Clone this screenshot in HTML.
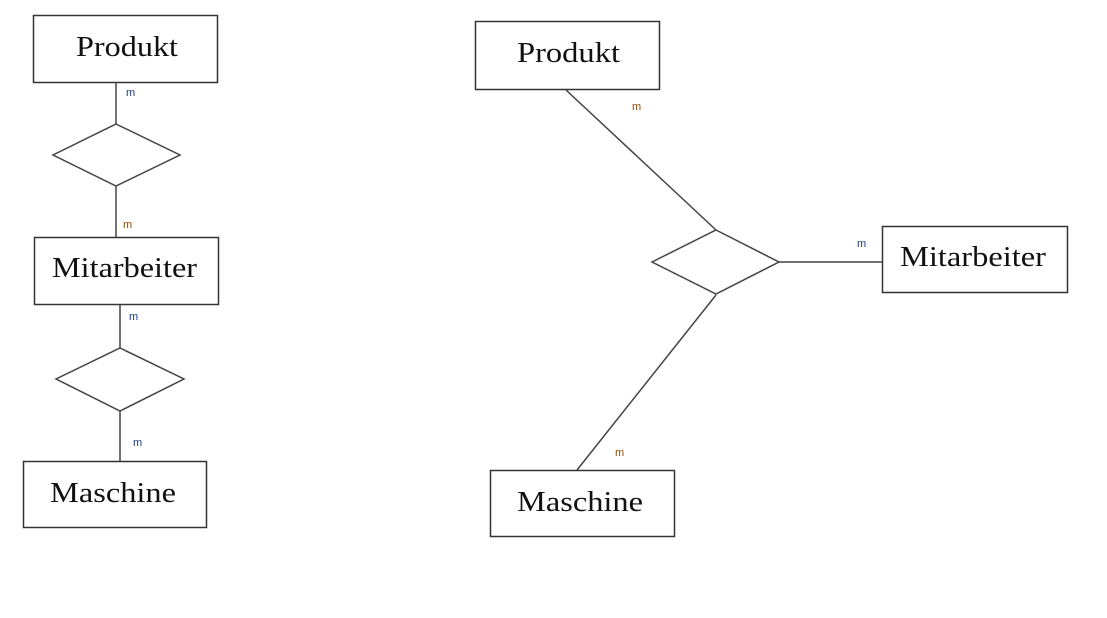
<!DOCTYPE html>
<html><head><style>
body{margin:0;background:#fff;width:1107px;height:618px;overflow:hidden}
</style></head><body>
<svg width="1107" height="618" xmlns="http://www.w3.org/2000/svg" style="position:absolute;left:0;top:0">
<g fill="#fff" stroke="#333" stroke-width="1.5">
<rect x="33.5" y="15.5" width="184" height="67"/>
<rect x="34.5" y="237.5" width="184" height="67"/>
<rect x="23.5" y="461.5" width="183" height="66"/>
<rect x="475.5" y="21.5" width="184" height="68"/>
<rect x="882.5" y="226.5" width="185" height="66"/>
<rect x="490.5" y="470.5" width="184" height="66"/>
</g>
<g stroke="#444" stroke-width="1.5" fill="none">
<line x1="116" y1="82" x2="116" y2="124"/>
<line x1="116" y1="186" x2="116" y2="237"/>
<line x1="120" y1="304" x2="120" y2="348"/>
<line x1="120" y1="411" x2="120" y2="461"/>
<line x1="566" y1="90" x2="716" y2="230"/>
<line x1="779" y1="262" x2="882" y2="262"/>
<line x1="716" y1="295" x2="577" y2="470"/>
<polygon points="116,124 180,155 116,186 53,155"/>
<polygon points="120,348 184,379 120,411 56,379"/>
<polygon points="716,230 779,262 716,294 652,262"/>
</g>
<g font-family="Liberation Serif, serif" font-size="28" fill="#111" lengthAdjust="spacingAndGlyphs">
<text x="76" y="56" textLength="102" lengthAdjust="spacingAndGlyphs">Produkt</text>
<text x="52" y="277" textLength="145" lengthAdjust="spacingAndGlyphs">Mitarbeiter</text>
<text x="50" y="502" textLength="126" lengthAdjust="spacingAndGlyphs">Maschine</text>
<text x="517" y="62" textLength="103" lengthAdjust="spacingAndGlyphs">Produkt</text>
<text x="900" y="266" textLength="146" lengthAdjust="spacingAndGlyphs">Mitarbeiter</text>
<text x="517" y="511" textLength="126" lengthAdjust="spacingAndGlyphs">Maschine</text>
</g>
<g font-family="Liberation Sans, sans-serif" font-size="11">
<text x="126" y="96" fill="#1a3a8a">m</text>
<text x="123" y="228" fill="#8a4a00">m</text>
<text x="129" y="320" fill="#1a3a8a">m</text>
<text x="133" y="446" fill="#1a3a8a">m</text>
<text x="632" y="110" fill="#8a4a00">m</text>
<text x="857" y="247" fill="#1a3a8a">m</text>
<text x="615" y="456" fill="#8a4a00">m</text>
</g>
</svg>
</body></html>
